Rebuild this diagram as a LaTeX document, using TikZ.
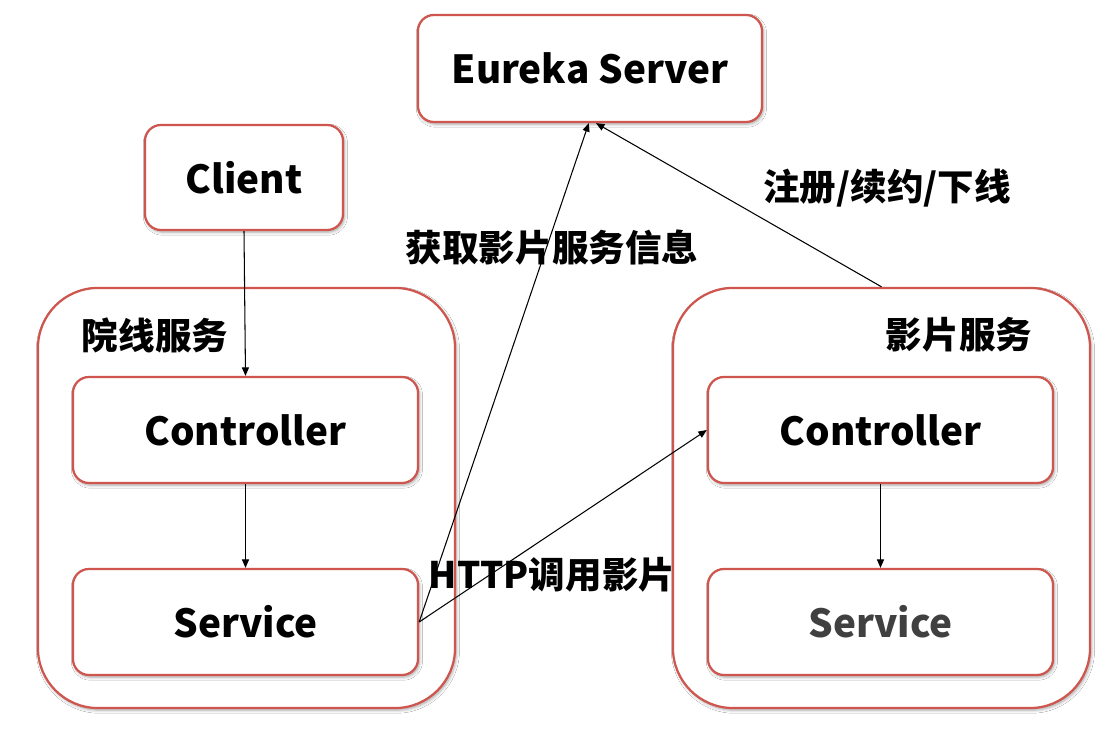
\documentclass[tikz,border=0pt]{standalone}
\usepackage{fontspec}
\setmainfont{Noto Sans CJK SC}
\usetikzlibrary{shadows.blur,arrows.meta}

\definecolor{boxred}{RGB}{206,86,78}
\definecolor{svcgray}{RGB}{64,64,64}

\tikzset{
    box/.style={draw=boxred, line width=1.6pt, fill=white, rounded corners=0.4cm,
        blur shadow={shadow xshift=1pt, shadow yshift=-1.5pt, shadow blur steps=6, shadow opacity=35},
        font=\fontsize{27.5}{30}\selectfont\bfseries},
    outerbox/.style={box, rounded corners=1.5cm, minimum width=10.425cm, minimum height=10.5cm},
    innerbox/.style={box, minimum width=8.625cm, minimum height=2.65cm},
    lbl/.style={font=\fontsize{26}{29}\selectfont\bfseries},
    conn/.style={-{Triangle[length=6pt,width=5pt]}, line width=0.75pt}
}

\begin{document}
\begin{tikzpicture}[x=0.025cm, y=-0.025cm]
    \useasboundingbox[fill=white] (0, 0) rectangle (1105, 729);

    % top row
    \node[box, minimum width=8.6cm, minimum height=2.675cm] (eureka) at (590, 68.5) {Eureka Server};
    \node[box, minimum width=4.95cm, minimum height=2.625cm] (client) at (244, 177.5) {Client};

    % left service
    \node[outerbox] (cinema) at (246.5, 498) {};
    \node[innerbox] (cinemactl) at (245.5, 430) {Controller};
    \node[innerbox] (cinemasvc) at (245.5, 622) {Service};
    \node[lbl] (cinemalbl) at (155, 335) {院线服务};

    % right service
    \node[outerbox] (film) at (881.5, 498) {};
    \node[innerbox] (filmctl) at (880.5, 430) {Controller};
    \node[innerbox, text=svcgray] (filmsvc) at (880.5, 622) {Service};
    \node[lbl] (filmlbl) at (959, 335) {影片服务};

    % edge labels
    \node[lbl] (fetchlbl) at (552, 248) {获取影片服务信息};
    \node[lbl] (reglbl) at (887, 188) {注册/续约/下线};
    \node[lbl] (httplbl) at (552, 575) {HTTP调用影片};

    \coordinate (fetchtip) at ([xshift=-0.03cm]eureka.south);
    \coordinate (regtip) at ([xshift=0.15cm]eureka.south);

    \draw[conn] (client.south) -- (cinemactl.north);
    \draw[conn] (cinemactl.south) -- (cinemasvc.north);
    \draw[conn] (filmctl.south) -- (filmsvc.north);
    \draw[conn] (cinemasvc.east) -- (fetchtip);
    \draw[conn] (cinemasvc.east) -- (filmctl.west);
    \draw[conn] (film.north) -- (regtip);
\end{tikzpicture}
\end{document}
